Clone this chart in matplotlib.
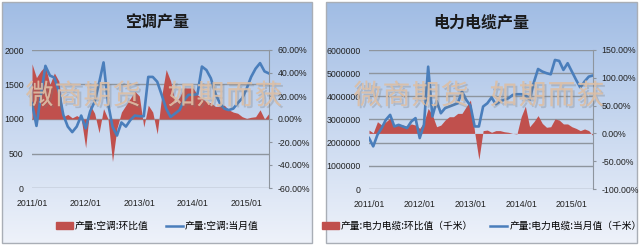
import numpy as np
import matplotlib
matplotlib.use('Agg')
import matplotlib.pyplot as plt
import matplotlib.patheffects as pe
from matplotlib.patches import Rectangle
from matplotlib.lines import Line2D

plt.rcParams['font.family'] = ['Liberation Sans', 'DejaVu Sans']

# 月份 2011/01 - 2015/06
months = [f'{2011 + i // 12}/{i % 12 + 1:02d}' for i in range(54)]
tick_idx = [0, 12, 24, 36, 48]

# 空调: 当月值 (左轴), 环比值 % (右轴)
ac_value = [1230, 900, 1350, 1770, 1630, 1600, 1400, 1060, 890, 810,
            890, 1050, 865, 1110, 1250, 1520, 1820, 1230, 890, 760,
            950, 890, 985, 1050, 1040, 1040, 1610, 1610, 1540, 1350,
            1150, 1030, 1080, 1130, 1270, 1350, 1350, 1360, 1760, 1710,
            1590, 1370, 1230, 1150, 1130, 1150, 1230, 1300, 1440, 1610,
            1730, 1810, 1690, 1660]
ac_ratio = [48, 36, 42, 46, 30, 40, 33, 2, 4, 1,
            3, 0.5, -25, 12, 5, -12, 9, 0, -37, -8,
            6, 12, 18, 24, 20, -7, 12, 6, -13, 20,
            43, 33, 14, 19, 27, 27, 27, 21, 18, 15,
            14, 11, 11, 12, 8, 6, 5, 2, 0.5, 1.5,
            2, 8, 0, 5]

# 电力电缆: 当月值 (千米), 环比值 %
cable_value = [2200000, 1840000, 2340000, 2630000, 2990000, 3200000, 2700000, 2770000, 2700000, 2630000,
               2910000, 3060000, 2200000, 2770000, 5280000, 3130000, 3800000, 3270000, 3490000, 3560000,
               3630000, 3700000, 4210000, 3850000, 3600000, 2700000, 2700000, 3560000, 3700000, 3950000,
               3660000, 3780000, 3850000, 3920000, 4060000, 4090000, 4090000, 4060000, 3850000, 4600000,
               5180000, 5070000, 5000000, 4950000, 5570000, 5530000, 5140000, 5430000, 5070000, 4710000,
               4380000, 4640000, 4850000, 4900000]
cable_ratio = [6, 1, 21, 15, 21, 27, 15, 17, 15, 13,
               17, 15, 9, 20, 45, 33, 12, 15, 24, 30,
               30, 36, 36, 48, 60, 2, -47, 5, 6, 2,
               5, 5, 3, 2, 0, -1, 30, 49, 12, 21,
               32, 18, 11, 12, 26, 24, 17, 17, 12, 9,
               5, 8, 5, -4]

watermark = ['微商期货', '如期而获']

W, H = 640, 245
RED = '#c0504d'
BLUE = '#4a7ebb'
GRID = '#8e959e'
CJK = ['Noto Sans CJK SC', 'DejaVu Sans']

fig = plt.figure(figsize=(W / 100, H / 100), dpi=100)
fig.patch.set_facecolor('white')


def box(x0, y0, x1, y1):
    return [x0 / W, 1 - y1 / H, (x1 - x0) / W, (y1 - y0) / H]


# 背景渐变
top = np.array([160, 188, 228]) / 255
bot = np.array([238, 242, 250]) / 255
t = np.linspace(0, 1, 256)[:, None]
grad = (top * (1 - t) + bot * t)[:, None, :]


def draw_panel(panel, plot, title, values, ratio, vticks, pticks, names, wm_starts):
    bg = fig.add_axes(box(*panel), zorder=0)
    bg.imshow(grad, aspect='auto', extent=[0, 1, 0, 1])
    bg.set_xlim(0, 1)
    bg.set_ylim(0, 1)
    bg.set_axis_off()
    bg.add_patch(Rectangle((0, 0), 1, 1, transform=bg.transAxes, fill=False,
                           ec='#a9aeb6', lw=1, clip_on=False))

    x = np.arange(len(values))

    # 网格线
    g = fig.add_axes(box(*plot), zorder=1)
    g.patch.set_visible(False)
    g.set_xlim(0, len(values) - 1)
    g.set_ylim(vticks[0], vticks[-1])
    for v in vticks:
        g.axhline(v, color=GRID, lw=1)
    g.set_axis_off()

    # 环比值 面积 (右轴)
    ax2 = fig.add_axes(box(*plot), zorder=2)
    ax2.patch.set_visible(False)
    ax2.fill_between(x, 0, ratio, color=RED, lw=0)
    ax2.set_xlim(0, len(values) - 1)
    ax2.set_ylim(pticks[0], pticks[-1])
    ax2.yaxis.tick_right()
    ax2.set_yticks(pticks)
    ax2.set_yticklabels([f'{p:.2f}%' for p in pticks])
    ax2.tick_params(axis='y', length=2.5, width=0.8, color=GRID, pad=3.5, labelsize=6.3, labelcolor='#222222')
    ax2.set_xticks([])
    for s in ['left', 'top', 'bottom']:
        ax2.spines[s].set_visible(False)
    ax2.spines['right'].set_color(GRID)

    # 当月值 折线 (左轴)
    ax = fig.add_axes(box(*plot), zorder=3)
    ax.patch.set_visible(False)
    ax.plot(x, values, color=BLUE, lw=1.9)
    ax.set_xlim(0, len(values) - 1)
    ax.set_ylim(vticks[0], vticks[-1])
    ax.set_yticks(vticks)
    ax.set_yticklabels([str(v) for v in vticks])
    ax.set_xticks(tick_idx)
    ax.set_xticklabels([months[i] for i in tick_idx])
    ax.tick_params(axis='y', length=0, pad=6, labelsize=6.3, labelcolor='#222222')
    ax.tick_params(axis='x', length=0, pad=8, labelsize=6.3, labelcolor='#222222')
    for s in ax.spines.values():
        s.set_visible(False)

    cx = (panel[0] + panel[2]) / 2
    fig.text(cx / W, 1 - 23 / H, title, ha='center', va='center',
             family=CJK, fontsize=11.5, weight='bold', color='#1a1a1a')

    handles = [Rectangle((0, 0), 1, 1, color=RED), Line2D([], [], color=BLUE, lw=1.8)]
    fig.legend(handles, names, loc='center', bbox_to_anchor=(cx / W, 1 - 226 / H),
               ncol=2, frameon=False, prop=dict(family=CJK, size=7),
               handlelength=1.75, handletextpad=0.2, columnspacing=1.8)

    # 水印, 逐字放置
    for word, x0 in zip(watermark, wm_starts):
        for i, ch in enumerate(word):
            fig.text((x0 + 14.5 + 29 * i) / W, 1 - 96 / H, ch, ha='center', va='center',
                     family=CJK, fontsize=20, color='#dcbfa6', alpha=0.7, zorder=10,
                     path_effects=[pe.withSimplePatchShadow(offset=(1.5, -1.5), shadow_rgbFace='#7a7a7a', alpha=0.3),
                                   pe.Normal()])


draw_panel((2, 2, 312, 243), (32, 50, 269, 188), '空调产量', ac_value, ac_ratio,
           [0, 500, 1000, 1500, 2000], [-60, -40, -20, 0, 20, 40, 60],
           ['产量:空调:环比值', '产量:空调:当月值'], [25, 167])
draw_panel((326, 2, 637, 243), (369, 50, 593, 189), '电力电缆产量', cable_value, cable_ratio,
           [0, 1000000, 2000000, 3000000, 4000000, 5000000, 6000000], [-100, -50, 0, 50, 100, 150],
           ['产量:电力电缆:环比值（千米）', '产量:电力电缆:当月值（千米）'], [353, 489])

fig.savefig('out.png', dpi=100)
